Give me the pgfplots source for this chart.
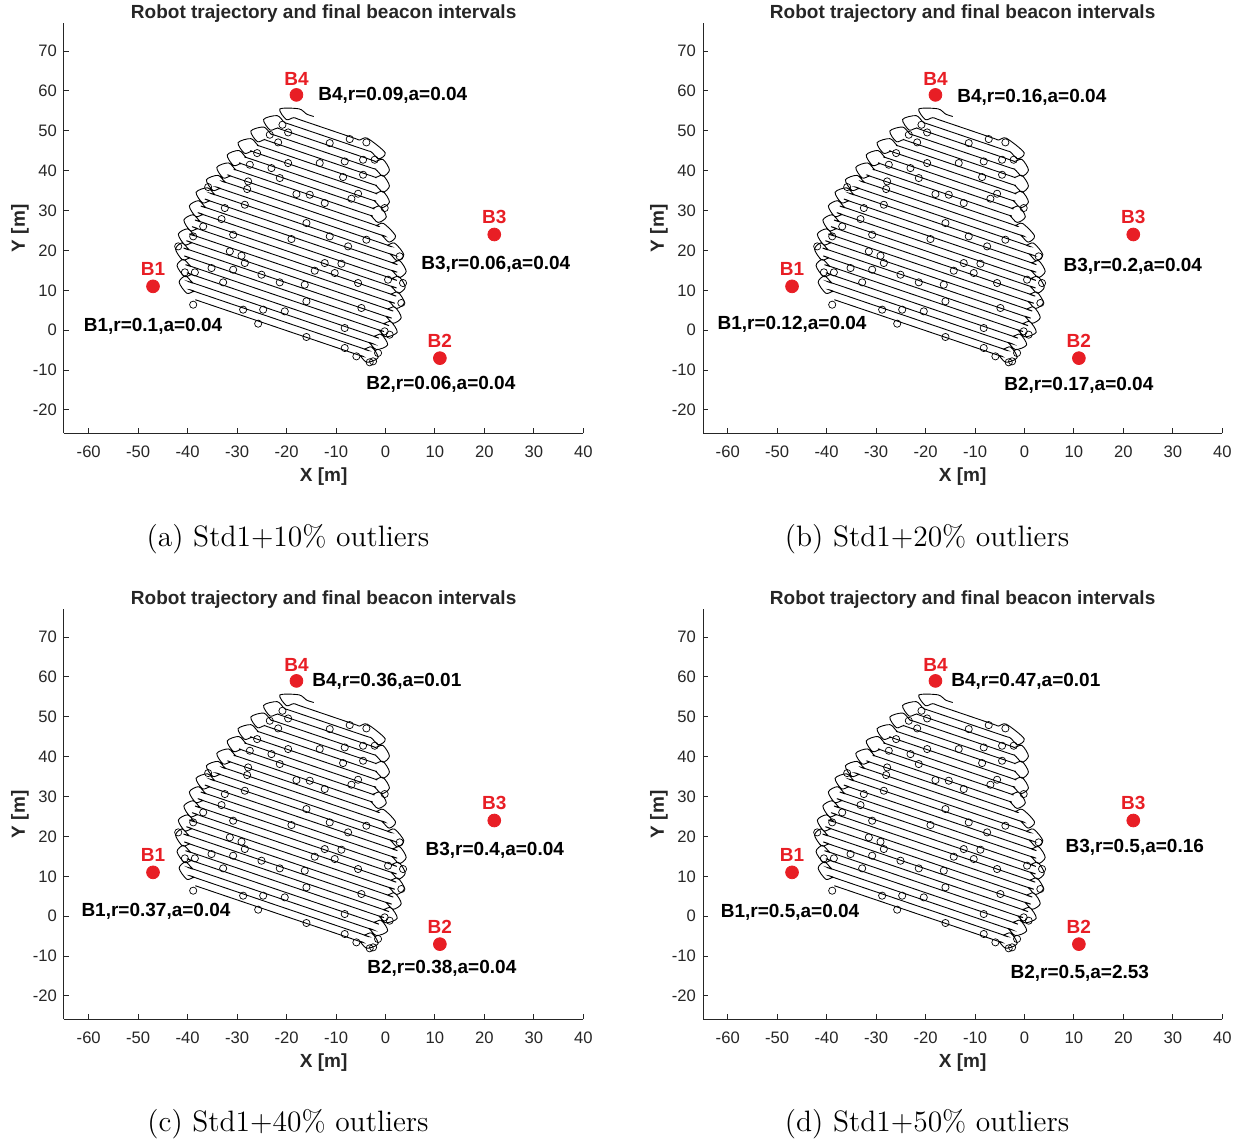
\documentclass[border=0pt]{standalone}
\usepackage{pgfplots}
\pgfplotsset{compat=1.18}
\usepackage{pgfplotstable}
\usepackage{fontspec}
\newfontfamily\arial{Liberation Sans}
\definecolor{bred}{RGB}{232,30,37}
\definecolor{axgray}{RGB}{38,38,38}
\definecolor{boxpurple}{RGB}{165,85,165}

\pgfplotstableread{
x y
-37.60 7.29
-36.10 6.66
-6.75 -5.67
-5.25 -6.30
-3.75 -8.03
-1.49 -6.88
-2.79 -4.23
-4.29 -4.70
-5.79 -4.07
-37.16 9.11
-38.66 9.74
-40.16 9.27
-41.72 12.03
-40.42 13.58
-38.92 11.85
-37.42 11.22
-4.82 -2.48
-3.32 -3.11
-1.82 -4.84
0.44 -3.69
-0.86 -1.04
-2.36 -1.51
-3.86 -0.88
-37.65 13.31
-39.15 13.94
-40.65 13.47
-42.14 16.20
-40.84 17.75
-39.34 16.02
-37.84 15.39
-2.89 0.71
-1.39 0.08
0.11 -1.65
2.37 -0.50
1.07 2.15
-0.43 1.68
-1.93 2.31
-38.03 17.47
-39.53 18.10
-41.03 17.63
-42.44 20.33
-41.14 21.88
-39.64 20.15
-38.14 19.52
-1.45 4.11
0.05 3.48
1.55 1.75
3.19 3.16
1.89 5.81
0.39 5.34
-1.11 5.97
-37.58 21.28
-39.08 21.91
-40.58 21.44
-41.88 24.09
-40.02 25.41
-38.52 23.68
-37.02 23.05
-0.78 7.83
0.72 7.20
2.22 5.47
3.82 6.89
2.52 9.54
1.02 9.07
-0.48 9.70
-36.46 24.81
-37.96 25.44
-39.46 24.97
-40.76 27.62
-38.90 28.94
-37.40 27.21
-35.90 26.58
-0.39 11.66
1.11 11.03
2.61 9.30
4.00 10.82
2.70 13.47
1.20 13.00
-0.30 13.63
-35.35 28.35
-36.85 28.98
-38.35 28.51
-39.65 31.16
-37.79 32.47
-36.29 30.74
-34.79 30.11
-0.20 15.58
1.30 14.95
2.80 13.22
4.19 14.74
2.89 17.39
1.39 16.92
-0.11 17.55
-33.99 31.78
-35.49 32.41
-36.99 31.94
-38.29 34.59
-35.95 35.70
-34.45 33.97
-32.95 33.34
-0.59 19.75
0.91 19.12
2.41 17.39
3.71 18.94
1.86 21.82
0.36 21.35
-1.14 21.98
-31.90 34.90
-33.40 35.53
-34.90 35.06
-36.20 37.71
-33.85 38.82
-32.35 37.09
-30.85 36.46
-2.27 24.45
-0.77 23.82
0.73 22.09
2.03 23.64
-0.39 26.76
-1.89 26.29
-3.39 26.92
-29.80 38.02
-31.30 38.65
-32.80 38.18
-34.10 40.83
-31.75 41.94
-30.25 40.21
-28.75 39.58
-4.50 29.39
-3.00 28.76
-1.50 27.03
0.17 28.42
-1.13 31.07
-2.63 30.60
-4.13 31.23
-27.70 41.13
-29.20 41.76
-30.70 41.29
-32.00 43.94
-29.66 45.06
-28.16 43.33
-26.66 42.70
-3.76 33.08
-2.26 32.45
-0.76 30.72
0.80 32.16
-0.50 34.81
-2.00 34.34
-3.50 34.97
-25.50 44.21
-27.00 44.84
-28.50 44.37
-29.80 47.02
-27.21 48.03
-25.71 46.30
-24.21 45.67
-3.50 36.97
-2.00 36.34
-0.50 34.61
0.80 36.16
-0.50 38.81
-2.00 38.34
-3.50 38.97
-22.92 47.13
-24.42 47.76
-25.92 47.29
-27.22 49.94
-24.63 50.94
-23.13 49.21
-21.63 48.58
-3.50 40.97
-2.00 40.34
-0.50 38.61
0.80 40.16
-0.50 42.81
-2.00 42.34
-3.50 42.97
-20.34 50.04
-21.84 50.67
-23.34 50.20
-24.64 52.85
-21.90 53.80
-20.40 52.07
-18.90 51.44
-4.38 45.34
-2.88 44.71
-1.38 42.98
-0.08 44.53
-3.69 48.15
-5.19 47.68
-6.69 48.31
-17.04 52.66
-18.54 53.29
-20.04 52.82
-21.34 55.47
-17.48 55.50
-15.98 54.21
-14.50 53.59
}\traj

\pgfplotstableread{
x y
-20.83 51.51
-19.68 49.59
-23.39 49.01
-21.70 47.09
-11.27 46.92
-7.23 47.92
-3.86 47.09
-4.53 42.74
-2.18 42.74
-25.95 44.41
-27.43 41.49
-23.05 40.65
-19.68 41.91
-13.29 41.91
-8.24 42.32
-4.53 38.98
-8.57 38.40
-21.37 38.15
-27.77 37.31
-27.97 35.39
-18.00 34.14
-15.31 33.97
-35.85 35.89
-32.48 30.63
-28.44 31.46
-12.28 31.88
-6.89 32.97
-5.54 34.22
-0.16 30.63
-33.15 27.87
-36.86 26.03
-38.88 23.53
-41.91 21.02
-30.80 23.95
-19.01 22.86
-15.98 26.87
-11.27 23.53
-7.56 21.02
-3.86 22.69
-31.47 19.77
-29.11 18.68
-28.44 16.84
-38.54 14.51
-40.56 14.51
-35.17 15.59
-30.80 15.17
-25.07 13.92
-14.30 14.92
-12.28 16.84
-8.91 16.68
-10.26 14.34
2.87 18.52
0.52 12.67
-32.82 12.00
-21.37 12.00
-16.32 11.41
-5.54 11.83
3.55 11.83
3.21 6.82
-38.88 6.40
-28.78 5.15
-24.73 5.15
-20.36 4.73
-15.98 7.24
-4.87 5.57
-25.74 1.64
-15.98 -1.70
-8.24 0.55
-0.16 -0.28
0.85 -1.12
-8.24 -4.46
-5.88 -6.55
-3.19 -8.05
-2.51 -7.80
-1.50 -5.71
}\circs

\pgfplotstableread{
x y
-47 11
11 -7
22 24
-18 59
}\beacons

\pgfplotsset{
  robotaxis/.style={
    scale only axis, width=259.65pt, height=205pt,
    anchor=south west,
    xmin=-65, xmax=40, ymin=-25.85, ymax=76.95,
    axis x line*=bottom, axis y line*=left,
    axis line style={axgray, line width=0.5pt, -},
    xtick={-60,-50,...,40}, ytick={-20,-10,...,70},
    xticklabels={-60,-50,-40,-30,-20,-10,0,10,20,30,40},
    yticklabels={-20,-10,0,10,20,30,40,50,60,70},
    xtick align=inside, ytick align=inside, major tick length=2.5pt,
    tick style={axgray, line width=0.5pt},
    tick label style={font=\arial\fontsize{8.3}{10}\selectfont, text=axgray},
    xticklabel style={yshift=-3pt},
    clip=false,
  }
}
\newcommand{\lbl}{\arial\bfseries\fontsize{9.5}{11}\selectfont}
\newcommand{\commonplots}{%
  \addplot[smooth, black, line width=0.45pt, no markers] table[x=x,y=y]{\traj};
  \addplot[only marks, mark=o, mark size=1.8pt, black, mark options={line width=0.35pt}] table[x=x,y=y]{\circs};
  \addplot[only marks, mark=*, mark size=3.2pt, bred, draw=bred] table[x=x,y=y]{\beacons};
  \node[font=\lbl, text=axgray, anchor=base, yshift=2.3pt] at (rel axis cs:0.5,1) {Robot trajectory and final beacon intervals};
  \node[font=\lbl, text=axgray, anchor=base, yshift=-24.3pt] at (rel axis cs:0.5,0) {X [m]};
  \node[font=\lbl, text=axgray, anchor=base, xshift=-19.6pt, rotate=90] at (rel axis cs:0,0.5) {Y [m]};
  \node[font=\lbl, text=bred] at (axis cs:-47,15.3) {B1};
  \node[font=\lbl, text=bred] at (axis cs:11,-2.7) {B2};
  \node[font=\lbl, text=bred] at (axis cs:22,28.3) {B3};
  \node[font=\lbl, text=bred] at (axis cs:-18,63.1) {B4};
}

\begin{document}
\begin{tikzpicture}
\path[use as bounding box] (0,0) rectangle (625.5pt,-571pt);

% (a)
\begin{axis}[robotaxis, at={(32pt,-216.65pt)}]
  \commonplots
  \node[font=\lbl] at (axis cs:-47,1.0) {B1,r=0.1,a=0.04};
  \node[font=\lbl] at (axis cs:11.2,-13.6) {B2,r=0.06,a=0.04};
  \node[font=\lbl] at (axis cs:22.3,16.5) {B3,r=0.06,a=0.04};
  \node[font=\lbl, anchor=west, inner sep=0pt] at (axis cs:-13.65,59) {B4,r=0.09,a=0.04};
\end{axis}

% (b)
\begin{axis}[robotaxis, at={(351.5pt,-216.65pt)}]
  \commonplots
  \node[font=\lbl] at (axis cs:-47,1.4) {B1,r=0.12,a=0.04};
  \node[font=\lbl] at (axis cs:11,-13.8) {B2,r=0.17,a=0.04};
  \node[font=\lbl] at (axis cs:21.9,16.0) {B3,r=0.2,a=0.04};
  \node[font=\lbl, anchor=west, inner sep=0pt] at (axis cs:-13.65,58.5) {B4,r=0.16,a=0.04};
\end{axis}

% (c)
\begin{axis}[robotaxis, at={(32pt,-509.65pt)}]
  \commonplots
  \node[font=\lbl] at (axis cs:-46.4,1.2) {B1,r=0.37,a=0.04};
  \node[font=\lbl] at (axis cs:11.4,-13.1) {B2,r=0.38,a=0.04};
  \node[font=\lbl] at (axis cs:22.1,16.5) {B3,r=0.4,a=0.04};
  \node[font=\lbl, anchor=west, inner sep=0pt] at (axis cs:-14.86,59) {B4,r=0.36,a=0.01};
\end{axis}

% (d)
\begin{axis}[robotaxis, at={(351.5pt,-509.65pt)}]
  \commonplots
  \addplot[fill=boxpurple, draw=boxpurple, line width=0.2pt] coordinates {(10.5,-7.5) (11.5,-7.5) (11.5,-6.5) (10.5,-6.5)} -- cycle;
  \node[font=\lbl] at (axis cs:-47.4,1.0) {B1,r=0.5,a=0.04};
  \node[font=\lbl] at (axis cs:11.2,-14.3) {B2,r=0.5,a=2.53};
  \node[font=\lbl] at (axis cs:22.3,17.25) {B3,r=0.5,a=0.16};
  \node[font=\lbl, anchor=west, inner sep=0pt] at (axis cs:-14.86,59) {B4,r=0.47,a=0.01};
\end{axis}

\node[font=\fontsize{14.75}{17}\selectfont, anchor=base] at (144pt,-273pt) {(a) Std1+10\% outliers};
\node[font=\fontsize{14.75}{17}\selectfont, anchor=base] at (463.5pt,-273pt) {(b) Std1+20\% outliers};
\node[font=\fontsize{14.75}{17}\selectfont, anchor=base] at (144pt,-565.5pt) {(c) Std1+40\% outliers};
\node[font=\fontsize{14.75}{17}\selectfont, anchor=base] at (463.5pt,-565.5pt) {(d) Std1+50\% outliers};
\end{tikzpicture}
\end{document}
